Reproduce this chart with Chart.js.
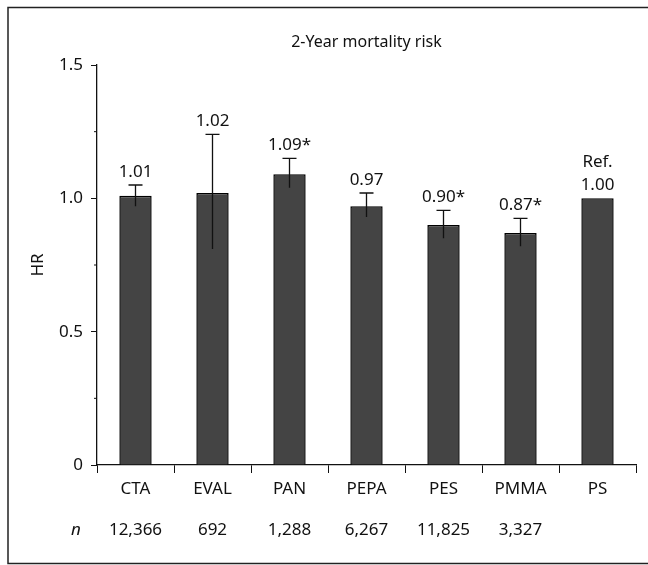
<!DOCTYPE html>
<html>
<head>
<meta charset="utf-8">
<script src="https://cdn.jsdelivr.net/npm/chart.js@4"></script>
<style>
  html, body { margin: 0; padding: 0; background: #fff; }
  #wrap { width: 648px; height: 565px; position: relative; }
</style>
</head>
<body>
<div id="wrap"><canvas id="myChart" width="648" height="565"></canvas></div>
<script>
const categories = ['CTA', 'EVAL', 'PAN', 'PEPA', 'PES', 'PMMA', 'PS'];
const hrValues = [1.01, 1.02, 1.09, 0.97, 0.90, 0.87, 1.00];
const upperCI = [1.05, 1.24, 1.15, 1.02, 0.955, 0.925, null];
const lowerCI = [0.97, 0.81, 1.04, 0.93, 0.85, 0.82, null];
const valueLabels = ['1.01', '1.02', '1.09*', '0.97', '0.90*', '0.87*', '1.00'];
const nLabels = ['12,366', '692', '1,288', '6,267', '11,825', '3,327', ''];
const yTicks = [0, 0.5, 1.0, 1.5];

const FONT = '"Noto Sans", sans-serif';
const ink = '#111';

// error bars, value labels, n row, frame
const extras = {
    id: 'extras',
    afterDatasetsDraw(chart) {
        const { ctx, scales } = chart;
        const yS = scales.y, xS = scales.x;
        const meta = chart.getDatasetMeta(0);
        ctx.save();
        ctx.strokeStyle = ink;
        ctx.lineWidth = 1.3;
        meta.data.forEach((bar, i) => {
            let topY = bar.y;
            if (upperCI[i] != null) {
                const hi = yS.getPixelForValue(upperCI[i]);
                const lo = yS.getPixelForValue(lowerCI[i]);
                ctx.beginPath();
                ctx.moveTo(bar.x, lo);
                ctx.lineTo(bar.x, hi);
                ctx.moveTo(bar.x - 7, hi);
                ctx.lineTo(bar.x + 7, hi);
                ctx.stroke();
                topY = hi;
            }
            ctx.fillStyle = ink;
            ctx.font = '17px ' + FONT;
            ctx.textAlign = 'center';
            ctx.textBaseline = 'alphabetic';
            ctx.fillText(valueLabels[i], bar.x, topY - 8);
            if (upperCI[i] == null) {
                ctx.fillText('Ref.', bar.x, topY - 31);
            }
        });

        // n row
        ctx.font = '17px ' + FONT;
        ctx.textAlign = 'center';
        ctx.textBaseline = 'middle';
        categories.forEach((c, i) => {
            ctx.fillText(nLabels[i], xS.getPixelForValue(i), 530);
        });
        ctx.font = 'italic 17px ' + FONT;
        ctx.fillText('n', 76, 530);

        // minor ticks
        ctx.lineWidth = 1;
        [0.25, 0.75, 1.25].forEach(v => {
            const p = yS.getPixelForValue(v);
            ctx.beginPath();
            ctx.moveTo(yS.right - 3, p);
            ctx.lineTo(yS.right, p);
            ctx.stroke();
        });

        // frame
        ctx.strokeStyle = '#222';
        ctx.lineWidth = 1.5;
        ctx.beginPath();
        ctx.moveTo(648, 7.5);
        ctx.lineTo(8, 7.5);
        ctx.lineTo(8, 563.5);
        ctx.lineTo(648, 563.5);
        ctx.stroke();
        ctx.restore();
    }
};

const data = {
    labels: categories,
    datasets: [
        {
            label: 'HR',
            data: hrValues,
            backgroundColor: '#444',
            borderColor: '#000',
            borderWidth: 1.5,
            barPercentage: 0.42,
            categoryPercentage: 1.0,
        },
    ],
};

const config = {
    type: 'bar',
    data,
    options: {
        responsive: false,
        animation: false,
        layout: { padding: { top: 65, right: 12, left: 0, bottom: 0 } },
        plugins: {
            legend: { display: false },
            tooltip: { enabled: false },
            title: { display: false },
        },
        scales: {
            x: {
                grid: {
                    offset: true,
                    drawOnChartArea: false,
                    drawTicks: true,
                    tickLength: 8,
                    color: ink,
                },
                border: { color: ink, width: 1.3 },
                ticks: {
                    color: ink,
                    font: { family: FONT, size: 17 },
                    padding: 6,
                },
                afterFit(scale) { scale.height = 100; },
            },
            y: {
                min: 0,
                max: 1.5,
                afterBuildTicks(scale) {
                    scale.ticks = yTicks.map(v => ({ value: v }));
                },
                grid: {
                    drawOnChartArea: false,
                    drawTicks: true,
                    tickLength: 6,
                    color: ink,
                },
                border: { color: ink, width: 1.3 },
                ticks: {
                    color: ink,
                    font: { family: FONT, size: 17 },
                    padding: 8,
                    callback: v => (v === 0 ? '0' : v.toFixed(1)),
                },
                title: {
                    display: true,
                    text: 'HR',
                    color: ink,
                    font: { family: FONT, size: 17 },
                    padding: { top: 28, bottom: 0 },
                },
                afterFit(scale) { scale.width = 97; },
            },
        },
    },
    plugins: [extras, {
        id: 'topTitle',
        afterDraw(chart) {
            const { ctx, chartArea } = chart;
            ctx.save();
            ctx.fillStyle = ink;
            ctx.font = '16px ' + FONT;
            ctx.textAlign = 'center';
            ctx.textBaseline = 'middle';
            ctx.fillText('2-Year mortality risk', (chartArea.left + chartArea.right) / 2, 42);
            ctx.restore();
        }
    }],
};

const ctx = document.getElementById('myChart').getContext('2d');
new Chart(ctx, config);
</script>
</body>
</html>
